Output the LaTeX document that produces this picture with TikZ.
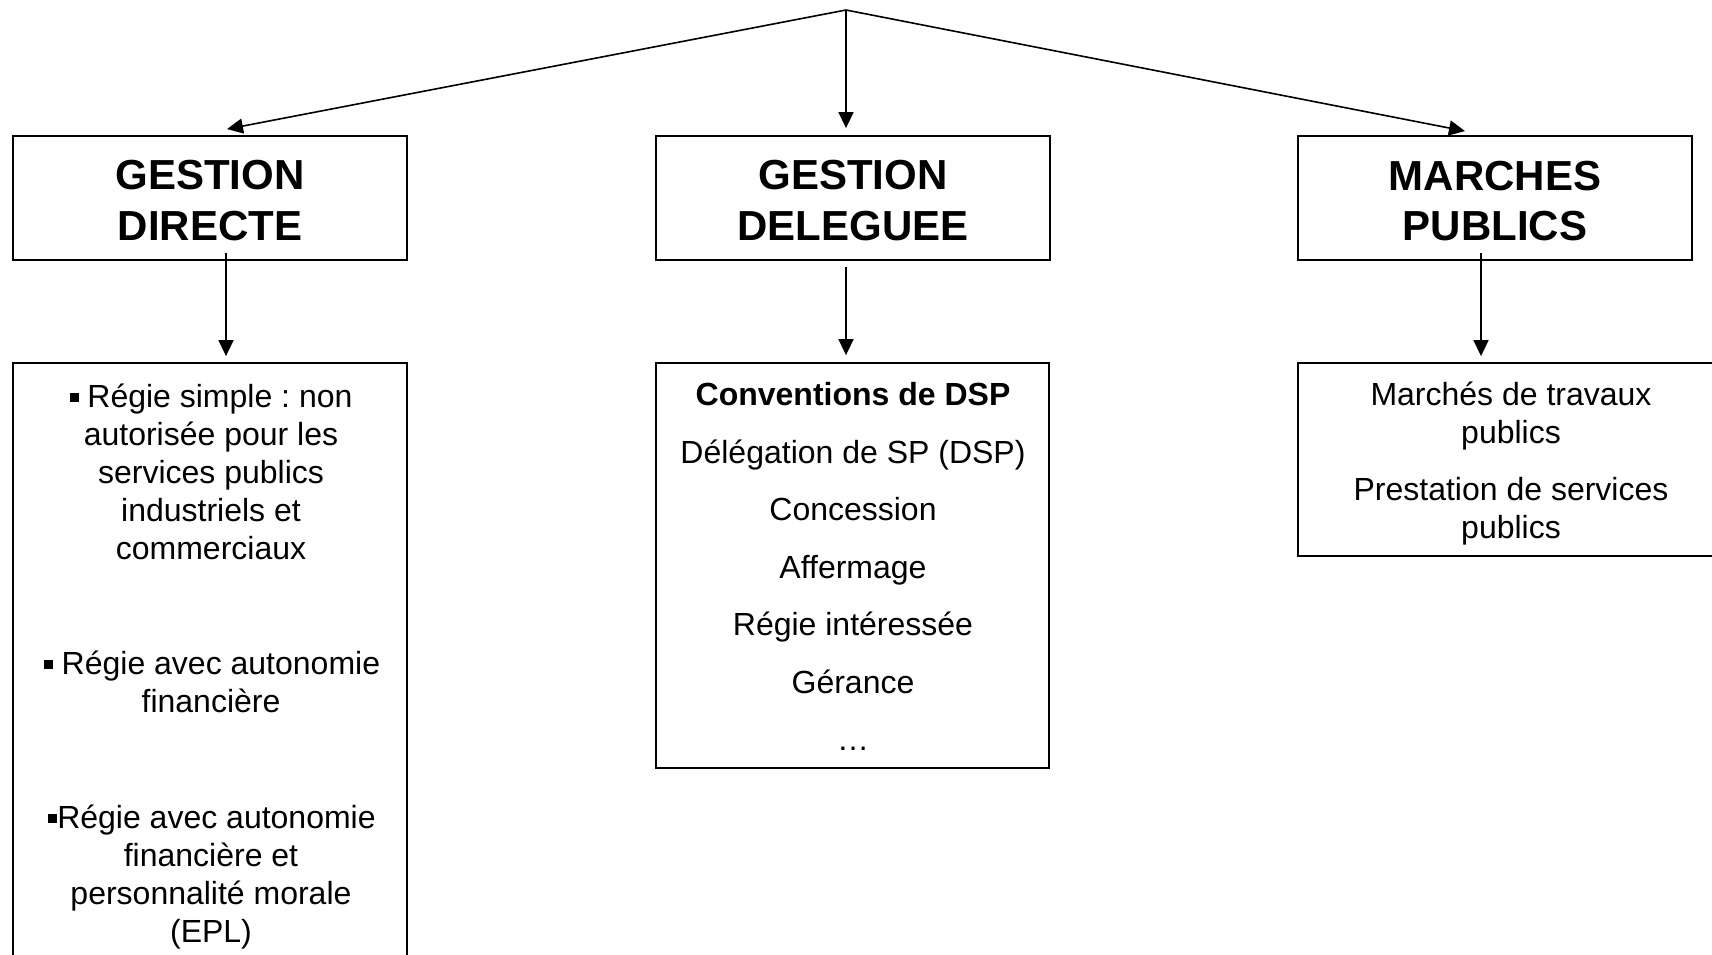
\documentclass[tikz,border=0pt]{standalone}
\usepackage{fontspec}
\setmainfont{Liberation Sans}
\usetikzlibrary{arrows.meta,calc}
\frenchspacing
\newcommand\hfont{\fontsize{42}{51}\selectfont\bfseries}
\newcommand\bfont{\fontsize{32}{38}\selectfont}
\newcommand\bul{\raisebox{5.5pt}{\rule{9pt}{9pt}}}
\begin{document}
\begin{tikzpicture}[x=1pt,y=-1pt,
  hbox/.style={draw,line width=1.8pt,minimum width=394pt,minimum height=124pt,inner sep=0pt},
  htxt/.style={anchor=base,inner sep=0pt,font=\hfont},
  lbox/.style={draw,line width=1.8pt,inner sep=0pt},
  ln/.style={anchor=base,inner sep=0pt,font=\bfont},
  arr/.style={line width=1.6pt,-{Triangle[length=16pt,width=15pt]}}]
\useasboundingbox (0,0) rectangle (1712,954);
\begin{scope}
\clip (0,0) rectangle (1712,954);
\coordinate (apex) at (846,10);
% header boxes
\node[hbox] (b1) at (210,198) {};
\node[hbox] (b2) at (853,198) {};
\node[hbox] (b3) at (1495,198) {};
\node[htxt] at ($(b1.center)+(0,-9)$) {GESTION};
\node[htxt] at ($(b1.center)+(0,42)$) {DIRECTE};
\node[htxt] at ($(b2.center)+(0,-9)$) {GESTION};
\node[htxt] at ($(b2.center)+(0,42)$) {DELEGUEE};
\node[htxt] at ($(b3.center)+(0,-8)$) {MARCHES};
\node[htxt] at ($(b3.center)+(0,42)$) {PUBLICS};
% lower boxes
\node[lbox,minimum width=394pt,minimum height=627pt] (c1) at (210,676.5) {};
\node[lbox,minimum width=393pt,minimum height=405pt] (c2) at (852.5,565.5) {};
\node[lbox,minimum width=426pt,minimum height=193pt] (c3) at (1511,459.5) {};
% arrows from apex
\draw[arr] (apex) -- ($(b1.north)+(17,-6)$);
\draw[arr] (apex) -- ($(b2.north)+(-7,-7)$);
\draw[arr] (apex) -- ($(b3.north)+(-30,-4)$);
% arrows down
\draw[arr] ($(b1.south)+(16,-8)$) -- ($(c1.north)+(16,-6)$);
\draw[arr] ($(b2.south)+(-7,6)$) -- ($(c2.north)+(-6.5,-7)$);
\draw[arr] ($(b3.south)+(-14,-8)$) -- ($(c3.north)+(-30,-6)$);
% left box text
\node[ln] at (211,407) {\bul{} Régie simple : non};
\node[ln] at (211,445) {autorisée pour les};
\node[ln] at (211,483) {services publics};
\node[ln] at (211,521) {industriels et};
\node[ln] at (211,559) {commerciaux};
\node[ln] at (212,674) {\bul{} Régie avec autonomie};
\node[ln] at (211,712) {financière};
\node[ln] at (212,828) {\bul{}Régie avec autonomie};
\node[ln] at (211,866) {financière et};
\node[ln] at (211,904) {personnalité morale};
\node[ln] at (211,942) {(EPL)};
% middle box text
\node[ln,font=\bfont\bfseries] at (853,405) {Conventions de DSP};
\node[ln] at (853,463) {Délégation de SP (DSP)};
\node[ln] at (853,520) {Concession};
\node[ln] at (853,578) {Affermage};
\node[ln] at (853,635) {Régie intéressée};
\node[ln] at (853,693) {Gérance};
\node[ln] at (853,750) {…};
% right box text
\node[ln] at (1511,405) {Marchés de travaux};
\node[ln] at (1511,443) {publics};
\node[ln] at (1511,500) {Prestation de services};
\node[ln] at (1511,538) {publics};
\end{scope}
\end{tikzpicture}
\end{document}
